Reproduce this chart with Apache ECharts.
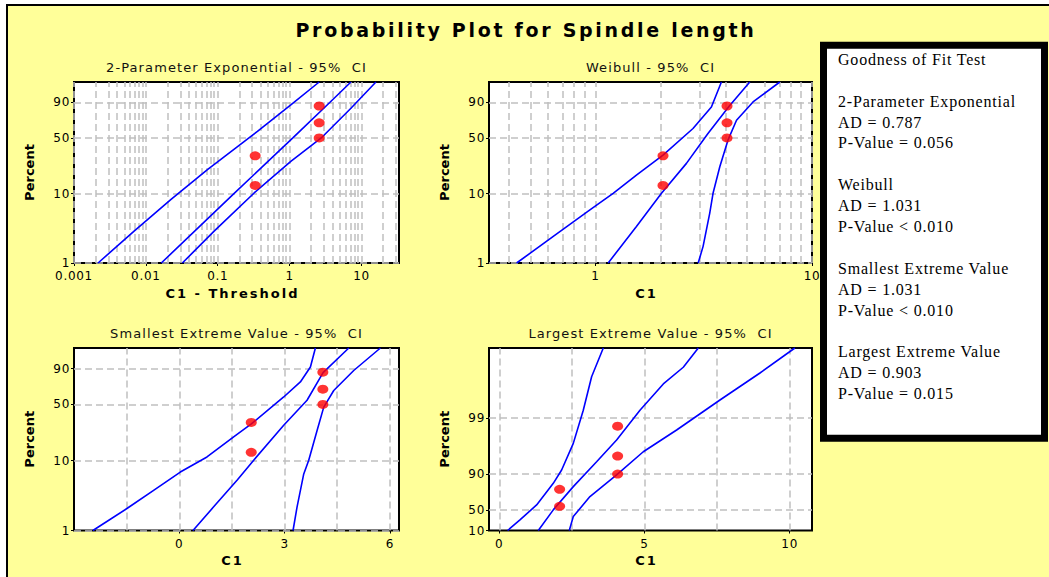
<!DOCTYPE html>
<html>
<head>
<meta charset="utf-8">
<script src="https://cdn.jsdelivr.net/npm/echarts@6/dist/echarts.min.js"></script>
<style>
html,body{margin:0;padding:0;background:#ffffff;}
#chart{width:1049px;height:577px;}
/* letter spacing per text group (marker font families) */
#chart text[style*="spTitle"]{letter-spacing:2.7px;}
#chart text[style*="spSub"]{letter-spacing:1.1px;}
#chart text[style*="spXName"]{letter-spacing:2px;}
#chart text[style*="spGof"]{letter-spacing:0.8px;}
#chart text[style*="spTick"]{letter-spacing:0.7px;}
</style>
</head>
<body>
<div id="chart"></div>
<script>
// ================= DATA =================
const chartTitle = 'Probability Plot for Spindle length';
const panelTitles = [
  '2-Parameter Exponential - 95%  CI',
  'Weibull - 95%  CI',
  'Smallest Extreme Value - 95%  CI',
  'Largest Extreme Value - 95%  CI'
];
const xAxisNames = ['C1 - Threshold', 'C1', 'C1', 'C1'];
const yAxisName = 'Percent';

// percent axis (probability scale)
const pctTicks = [1, 10, 50, 90];
const pctTickLabels = ['1', '10', '50', '90'];
const levPctTickLabels = ['10', '50', '90', '99'];
const pctRange = [1, 99];

// plotted points: percent (median ranks)
const pointPct = [12.96, 31.48, 50, 68.52, 87.04];

// ---- Panel 1: 2-Parameter Exponential (x = C1 - Threshold, log) ----
const expRange = [0.001, 33.3];
const expTickValues = [0.001, 0.01, 0.1, 1, 10];
const expTickLabels = ['0.001', '0.01', '0.1', '1', '10'];
const expGridDecades = [0.001, 0.01, 0.1, 1, 10];
const logGridMantissas = [1, 2, 3, 4, 5, 6, 7, 8, 9];
const expPointsX = [0.332, 0.332, 2.58, 2.58, 2.58];
const expUpper = [[0.00216, 1], [0.00686, 2.91], [0.0222, 8.25], [0.0719, 21.1], [0.357, 57.8], [1.04, 88.0], [2.58, 99]];
const expFit   = [[0.0164, 1], [0.168, 10], [1.11, 50], [3.62, 90], [7.14, 99]];
const expLower = [[0.0322, 1], [0.0891, 2.91], [0.321, 10.2], [1.04, 26.9], [2.73, 49.7], [7.14, 84.9], [15.9, 99]];

// ---- Panel 2: Weibull (x = C1, log) ----
const weiRange = [0.322, 10];
const weiTickValues = [1, 10];
const weiTickLabels = ['1', '10'];
const weiGridX = [0.4, 0.5, 0.6, 0.7, 0.8, 0.9, 1, 2, 3, 4, 5, 6, 7, 8, 9, 10];
const weiPointsX = [2.05, 2.05, 4.05, 4.05, 4.05];
const weiUpper = [[0.432, 1], [0.638, 2.44], [0.942, 5.89], [1.206, 10.1], [1.545, 17.9], [2.05, 32.2], [2.82, 61.5], [3.43, 86.2], [3.815, 99]];
const weiFit   = [[1.144, 1], [1.545, 3.4], [2.017, 10.1], [2.63, 25.4], [3.3, 55], [4.15, 87], [5.16, 99]];
const weiLower = [[2.98, 1], [3.14, 1.75], [3.37, 5.3], [3.49, 10.1], [3.75, 23], [4.09, 47.4], [4.48, 71.7], [5.34, 90.4], [7.10, 99]];

// ---- Panel 3: Smallest Extreme Value (x = C1, linear) ----
const sevRange = [-3, 6.26];
const sevTickValues = [0, 3, 6];
const sevTickLabels = ['0', '3', '6'];
const sevGridX = [-1.5, 0, 1.5, 3, 4.5, 6];
const sevPointsX = [2.05, 2.05, 4.09, 4.09, 4.09];
const sevUpper = [[-2.462, 1], [-1.492, 2.08], [-0.732, 3.8], [0.029, 6.9], [0.789, 11.2], [1.549, 20.8], [2.053, 30.2], [2.975, 58.9], [3.45, 77.1], [3.736, 91.2], [3.878, 99]];
const sevFit   = [[0.39, 1], [0.979, 2.2], [1.645, 5.3], [2.12, 10.1], [2.975, 29.1], [3.64, 54.9], [4.097, 86.6], [4.83, 99]];
const sevLower = [[3.241, 1], [3.356, 2.2], [3.546, 6.5], [3.688, 10.1], [3.926, 25.1], [4.116, 46.9], [4.401, 66.9], [4.97, 88.5], [5.73, 99]];

// ---- Panel 4: Largest Extreme Value (x = C1, linear) ----
const levRange = [-0.354, 10.77];
const levTickValues = [0, 5, 10];
const levTickLabels = ['0', '5', '10'];
const levGridX = [0, 2.5, 5, 7.5, 10];
const levPointsX = [2.078, 2.078, 4.076, 4.076, 4.076];
const levUpper = [[0.287, 1], [0.712, 4], [1.286, 14.2], [1.86, 38.9], [2.147, 54.7], [2.549, 78.1], [2.893, 92.2], [3.18, 97.4], [3.582, 99]];
const levFit   = [[1.343, 1], [1.86, 10], [2.549, 34.8], [3.352, 63.3], [4.041, 80.2], [4.845, 92.2], [5.649, 96.7], [6.337, 98.1], [6.854, 99]];
const levLower = [[2.411, 1], [2.549, 5.6], [3.123, 22.9], [4.041, 49], [4.96, 72.1], [6.108, 85.4], [7.6, 94.4], [8.978, 97.7], [10.18, 99]];

// ---- Goodness of fit box ----
const gofLines = [
  'Goodness of Fit Test', '',
  '2-Parameter Exponential', 'AD = 0.787', 'P-Value = 0.056', '',
  'Weibull', 'AD = 1.031', 'P-Value < 0.010', '',
  'Smallest Extreme Value', 'AD = 1.031', 'P-Value < 0.010', '',
  'Largest Extreme Value', 'AD = 0.903', 'P-Value = 0.015'
];

// ================= SCALES =================
const tLog = v => Math.log10(v);
const tLin = v => v;
const tPctMin = p => Math.log(-Math.log(1 - p / 100));   // exponential / Weibull / SEV
const tPctMax = p => -Math.log(-Math.log(p / 100));      // LEV

function expand(decades, mants, maxV) {
  const out = [];
  decades.forEach(d => mants.forEach(m => { const v = d * m; if (v <= maxV) out.push(v); }));
  return out;
}
const expGridX = expand(expGridDecades, logGridMantissas, expRange[1]);

const layout = [
  {left: 74, top: 82, width: 325, height: 181},
  {left: 489, top: 82, width: 323, height: 181},
  {left: 74, top: 348, width: 325, height: 182.5},
  {left: 489, top: 348, width: 323, height: 182.5}
];

const panels = [
  {xf: tLog, yf: tPctMin, range: expRange, tv: expTickValues, tl: expTickLabels, gx: expGridX, yl: pctTickLabels, lines: [expUpper, expFit, expLower], px: expPointsX},
  {xf: tLog, yf: tPctMin, range: weiRange, tv: weiTickValues, tl: weiTickLabels, gx: weiGridX, yl: pctTickLabels, lines: [weiUpper, weiFit, weiLower], px: weiPointsX},
  {xf: tLin, yf: tPctMin, range: sevRange, tv: sevTickValues, tl: sevTickLabels, gx: sevGridX, yl: pctTickLabels, lines: [sevUpper, sevFit, sevLower], px: sevPointsX},
  {xf: tLin, yf: tPctMax, range: levRange, tv: levTickValues, tl: levTickLabels, gx: levGridX, yl: levPctTickLabels, lines: [levUpper, levFit, levLower], px: levPointsX}
];

function makeFmt(vals, labels) {
  return function (v) {
    for (let i = 0; i < vals.length; i++) if (Math.abs(vals[i] - v) < 1e-6) return labels[i];
    return '';
  };
}

const labelFont = {color: '#000', fontFamily: '"DejaVu Sans", spTick', fontSize: 12};
const grids = [], xAxes = [], yAxes = [], series = [], graphics = [];

panels.forEach((p, i) => {
  const L = layout[i];
  grids.push({left: L.left, top: L.top, width: L.width, height: L.height, show: true,
    backgroundColor: '#ffffff', borderColor: '#000', borderWidth: 2, containLabel: false});

  const xTicks = p.tv.map(p.xf);
  const yTicks = pctTicks.map(p.yf);

  xAxes.push({
    type: 'value', gridIndex: i, min: p.xf(p.range[0]), max: p.xf(p.range[1]),
    axisLine: {show: false, onZero: false}, splitLine: {show: false},
    axisTick: {show: true, customValues: xTicks, length: 3, lineStyle: {color: '#000', width: 1}},
    axisLabel: Object.assign({customValues: xTicks, margin: 7, lineHeight: 12, formatter: makeFmt(xTicks, p.tl)}, labelFont)
  });
  yAxes.push({
    type: 'value', gridIndex: i, min: p.yf(pctRange[0]), max: p.yf(pctRange[1]),
    axisLine: {show: false, onZero: false}, splitLine: {show: false},
    axisTick: {show: true, customValues: yTicks, length: 3, lineStyle: {color: '#000', width: 1}},
    axisLabel: Object.assign({customValues: yTicks, margin: 4, lineHeight: 12, padding: [0, 0, 3, 0], formatter: makeFmt(yTicks, p.yl)}, labelFont)
  });

  // gridlines
  series.push({
    type: 'line', xAxisIndex: i, yAxisIndex: i, data: [], silent: true, z: 1,
    markLine: {
      silent: true, z: 1, symbol: ['none', 'none'], label: {show: false}, animation: false,
      lineStyle: {color: '#c0c0c0', width: 1.5, type: [7, 4]},
      emphasis: {disabled: true},
      data: p.gx.map(v => ({xAxis: p.xf(v)})).concat(yTicks.map(v => ({yAxis: v})))
    }
  });
  // CI and fit lines
  p.lines.forEach(ln => {
    series.push({
      type: 'line', xAxisIndex: i, yAxisIndex: i, z: 3, showSymbol: false, symbol: 'none',
      data: ln.map(d => [p.xf(d[0]), p.yf(d[1])]),
      lineStyle: {color: '#0000ff', width: 1.6}, silent: true
    });
  });
  // points
  series.push({
    type: 'scatter', xAxisIndex: i, yAxisIndex: i, z: 4,
    symbol: 'circle', symbolSize: [11, 9],
    itemStyle: {color: '#ff0000'},
    data: p.px.map((x, k) => [p.xf(x), p.yf(pointPct[k])])
  });

  // panel title / axis names
  const cx = L.left + L.width / 2;
  const cy = L.top + L.height / 2;
  graphics.push({type: 'text', x: cx, y: L.top - 15, z: 10,
    style: {text: panelTitles[i], fill: '#111', font: '13px "DejaVu Sans", spSub', textAlign: 'center', textVerticalAlign: 'middle'}});
  graphics.push({type: 'text', x: cx - 4, y: L.top + L.height + 30, z: 10,
    style: {text: xAxisNames[i], fill: '#000', font: 'bold 13px "DejaVu Sans", spXName', textAlign: 'center', textVerticalAlign: 'middle'}});
  graphics.push({type: 'text', x: L.left - 44.5, y: cy, rotation: Math.PI / 2, z: 10,
    style: {text: yAxisName, fill: '#000', font: 'bold 13px "DejaVu Sans"', textAlign: 'center', textVerticalAlign: 'middle'}});
});

// frame
graphics.push({type: 'rect', shape: {x: 0, y: 0, width: 1049, height: 4}, style: {fill: '#fff'}, z: 10});
graphics.push({type: 'rect', shape: {x: 0, y: 0, width: 6, height: 577}, style: {fill: '#fff'}, z: 10});
graphics.push({type: 'line', shape: {x1: 7, y1: 4, x2: 7, y2: 577}, style: {stroke: '#000', lineWidth: 2}, z: 10});
graphics.push({type: 'line', shape: {x1: 6, y1: 5, x2: 1049, y2: 5}, style: {stroke: '#000', lineWidth: 2}, z: 10});

// main title
graphics.push({type: 'text', x: 526, y: 30, z: 10,
  style: {text: chartTitle, fill: '#000', font: 'bold 19px "DejaVu Sans", spTitle', textAlign: 'center', textVerticalAlign: 'middle'}});

// goodness of fit box
graphics.push({type: 'rect', shape: {x: 823.5, y: 45.2, width: 221, height: 393}, z: 10,
  style: {fill: '#fff', stroke: '#000', lineWidth: 7}});
const gofTop = 59.3, gofStep = 20.9;
gofLines.forEach((t, k) => {
  if (!t) return;
  graphics.push({type: 'text', x: 838, y: gofTop + k * gofStep, z: 11,
    style: {text: t, fill: '#000', font: '16px "Liberation Serif", spGof', textAlign: 'left', textVerticalAlign: 'middle'}});
});

const chart = echarts.init(document.getElementById('chart'), null, {renderer: 'svg'});
chart.setOption({
  backgroundColor: '#FFFF99',
  animation: false,
  grid: grids,
  xAxis: xAxes,
  yAxis: yAxes,
  series: series,
  graphic: {elements: graphics}
});
</script>
</body>
</html>
